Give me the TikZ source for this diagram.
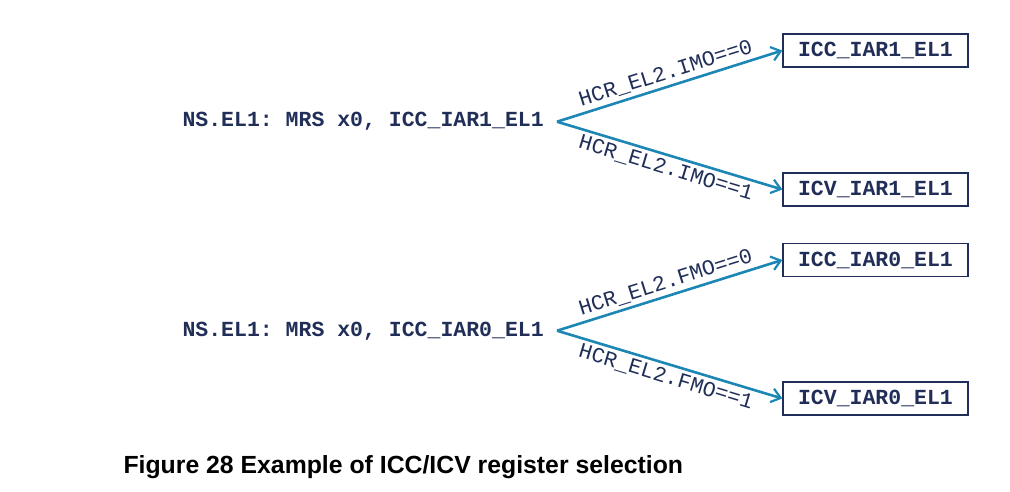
\documentclass[tikz,border=0pt]{standalone}
\usepackage{fontspec}
\setmainfont{Liberation Sans}
\setmonofont{Liberation Mono}
\usepackage{xcolor}
\usepackage{tikz}
\usetikzlibrary{arrows.meta,positioning,calc}
\definecolor{ink}{RGB}{32,46,88}
\definecolor{wire}{RGB}{28,134,180}

\begin{document}
\begin{tikzpicture}[x=1pt,y=-1pt,>={Straight Barb[length=9pt,width=14pt,line width=2.2pt]},font=\ttfamily\fontsize{21.5}{24}\selectfont]
\tikzset{cmd/.style={text=ink,font=\ttfamily\bfseries\fontsize{21.5}{24}\selectfont,inner xsep=13pt,inner ysep=0pt},
  reg/.style={draw=ink,line width=1.3pt,fill=white,text=ink,font=\ttfamily\bfseries\fontsize{21.5}{24}\selectfont,minimum width=185pt,minimum height=33pt,inner sep=0pt},
  arr/.style={->,draw=wire,line width=2.6pt},lbl/.style={text=ink,sloped,inner sep=3.5pt}}
\useasboundingbox (0,0) rectangle (1010,492);
\node[cmd,anchor=base east] (src1) at (557,127) {NS.EL1: MRS x0, ICC\_IAR1\_EL1};
\node[cmd,anchor=base east] (src0) at (557,336) {NS.EL1: MRS x0, ICC\_IAR0\_EL1};
\node[reg] (icc1) at (875.5,50.5) {ICC\_IAR1\_EL1};
\node[reg] (icv1) at (875.5,189.5) {ICV\_IAR1\_EL1};
\node[reg] (icc0) at (875.5,260) {ICC\_IAR0\_EL1};
\node[reg] (icv0) at (875.5,398.5) {ICV\_IAR0\_EL1};
\draw[arr] (src1.east)--(icc1.west) node[lbl,above,midway] {HCR\_EL2.IMO==0};
\draw[arr] (src1.east)--(icv1.west) node[lbl,below,midway] {HCR\_EL2.IMO==1};
\draw[arr] (src0.east)--(icc0.west) node[lbl,above,midway] {HCR\_EL2.FMO==0};
\draw[arr] (src0.east)--(icv0.west) node[lbl,below,midway] {HCR\_EL2.FMO==1};
\node[anchor=base west,font=\bfseries\fontsize{24.8}{28}\selectfont] (cap) at (120,473) {Figure 28 Example of ICC/ICV register selection};
\end{tikzpicture}
\end{document}
